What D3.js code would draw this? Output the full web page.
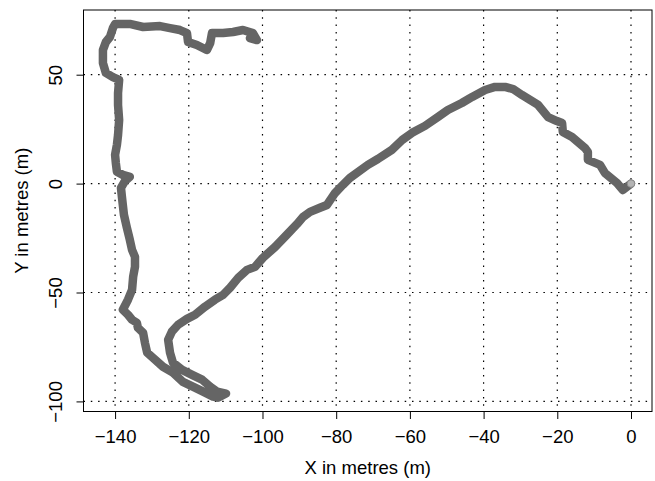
<!DOCTYPE html>
<html>
<head>
<meta charset="utf-8">
<script src="https://cdn.jsdelivr.net/npm/d3@7"></script>
<style>
  body { margin: 0; background: #fff; }
  svg text { font-family: "Liberation Sans", Arial, sans-serif; fill: #000; }
</style>
</head>
<body>
<div id="chart"></div>
<script>
// tick positions
const xTicks = [-140, -120, -100, -80, -60, -40, -20, 0]
const yTicks = [-100, -50, 0, 50]

// track, starting at the origin
const trackX = [0, -2.2, -3.8, -7.1, -8.4, -11.7, -11.7, -12.5, -16.0, -18.5, -18.7, -20.1, -22.5, -25.2, -27.4, -29.6, -32.0, -34.2, -36.9, -39.6,
  -43.1, -45.9, -49.7, -52.4, -55.9, -59.4, -62.1, -64.9, -68.7, -71.4, -76.3, -78.2, -80.3, -82.5, -84.4, -87.1, -89.0, -90.6, -93.4, -96.6,
  -99.9, -102.0, -104.2, -106.6, -108.8, -110.7, -112.9, -115.6, -118.3, -120.5, -122.9, -124.6, -125.6, -125.1, -124.3, -121.8, -119.1, -116.4, -114.2, -112.3,
  -109.9, -112.1, -113.4, -116.1, -118.9, -121.6, -124.3, -127.0, -129.7, -131.3, -131.9, -132.4, -133.8, -134.1, -135.4, -136.5, -137.9, -136.5, -135.4, -135.1,
  -134.6, -134.6, -135.4, -136.0, -136.8, -137.6, -137.9, -138.2, -138.4, -137.3, -136.0, -137.9, -139.5, -139.8, -140.0, -139.5, -139.2, -138.9, -139.2, -139.2,
  -138.9, -140.6, -142.5, -143.3, -143.3, -142.5, -141.4, -140.6, -140.0, -138.1, -136.0, -132.4, -127.8, -125.1, -122.4, -120.5, -120.2, -117.8, -115.1, -114.2,
  -113.7, -110.7, -108.0, -105.3, -102.6, -101.5, -103.4]
const trackY = [0, -2.9, 0.3, 4.9, 8.6, 10.9, 14.5, 16.4, 21.4, 23.7, 27.8, 28.7, 30.5, 36.1, 38.4, 40.7, 43.4, 44.4, 44.4, 43.0,
  39.8, 37.0, 33.8, 30.6, 26.5, 23.3, 20.0, 15.5, 11.3, 8.6, 2.6, -0.6, -4.3, -9.8, -11.1, -13.0, -15.3, -18.5, -23.5, -29.1,
  -34.1, -38.2, -39.6, -43.3, -47.8, -51.1, -53.3, -56.5, -60.2, -62.1, -64.8, -68.0, -71.7, -77.6, -82.2, -85.5, -87.8, -90.0, -93.2, -95.5,
  -96.4, -98.3, -97.8, -95.5, -93.2, -91.0, -86.8, -84.1, -80.0, -77.6, -73.1, -68.5, -66.2, -63.9, -62.5, -60.2, -57.9, -53.3, -48.8, -42.8,
  -38.2, -33.6, -30.4, -25.8, -20.3, -14.3, -9.8, -5.2, -2.0, 1.2, 3.1, 4.0, 5.4, 9.5, 13.2, 17.8, 22.3, 29.2, 36.1, 41.6,
  47.6, 48.9, 50.8, 55.4, 61.3, 65.0, 67.3, 71.4, 73.3, 73.3, 73.3, 71.9, 72.3, 71.4, 70.5, 69.1, 65.0, 63.6, 61.3, 64.5,
  69.1, 69.1, 69.6, 70.5, 69.1, 65.9, 66.8]

const startPoint = [0, 0]

const width = 655, height = 481
const frame = { left: 83.5, right: 652, top: 10, bottom: 411.5 }

const svg = d3.select("#chart").append("svg")
  .attr("width", width)
  .attr("height", height)

const x = d3.scaleLinear().domain([-148.6, 5.7]).range([83.4, 652])
const y = d3.scaleLinear().domain([-104.4, 79.7]).range([411, 10])

// dotted grid
const grid = svg.append("g")
  .attr("stroke", "#000")
  .attr("stroke-width", 1.2)
  .attr("stroke-dasharray", "1.5,5.8")

grid.selectAll(".vx").data(xTicks).join("line")
  .attr("x1", d => x(d)).attr("x2", d => x(d))
  .attr("y1", frame.top).attr("y2", frame.bottom)

grid.selectAll(".hy").data(yTicks).join("line")
  .attr("x1", frame.left).attr("x2", frame.right)
  .attr("y1", d => y(d)).attr("y2", d => y(d))

// the track
const pts = trackX.map((v, i) => [v, trackY[i]])
const line = d3.line().x(d => x(d[0])).y(d => y(d[1]))

svg.append("path")
  .datum(pts)
  .attr("d", line)
  .attr("fill", "none")
  .attr("stroke", "#656565")
  .attr("stroke-width", 8.5)
  .attr("stroke-linecap", "round")
  .attr("stroke-linejoin", "round")

svg.append("circle")
  .attr("cx", x(startPoint[0]))
  .attr("cy", y(startPoint[1]))
  .attr("r", 3.8)
  .attr("fill", "#b4b4b4")
  .attr("stroke", "#8a8a8a")
  .attr("stroke-width", 1)

// frame
svg.append("rect")
  .attr("x", frame.left).attr("y", frame.top)
  .attr("width", frame.right - frame.left).attr("height", frame.bottom - frame.top)
  .attr("fill", "none")
  .attr("stroke", "#000")
  .attr("stroke-width", 1)

// x axis
const xAxis = svg.append("g")
  .attr("transform", `translate(0,${frame.bottom})`)
  .call(d3.axisBottom(x).tickValues(xTicks).tickSize(7.5).tickSizeOuter(0))
xAxis.select(".domain").remove()
xAxis.selectAll("text")
  .attr("y", 31.5).attr("dy", null)
  .attr("font-size", 18.5)
  .attr("font-family", "Liberation Sans, Arial, sans-serif")

// y axis
const yAxis = svg.append("g")
  .attr("transform", `translate(${frame.left},0)`)
  .call(d3.axisLeft(y).tickValues(yTicks).tickSize(7).tickSizeOuter(0))
yAxis.select(".domain").remove()
yAxis.selectAll("text")
  .attr("x", null).attr("dy", null)
  .attr("text-anchor", "middle")
  .attr("transform", `translate(${62 - frame.left},0) rotate(-90)`)
  .attr("font-size", 18.5)
  .attr("font-family", "Liberation Sans, Arial, sans-serif")

// titles
svg.append("text")
  .attr("x", (frame.left + frame.right) / 2)
  .attr("y", 474)
  .attr("text-anchor", "middle")
  .attr("font-size", 18.5)
  .text("X in metres (m)")

svg.append("text")
  .attr("transform", `translate(28,${(frame.top + frame.bottom) / 2}) rotate(-90)`)
  .attr("text-anchor", "middle")
  .attr("font-size", 18.5)
  .text("Y in metres (m)")
</script>
</body>
</html>
